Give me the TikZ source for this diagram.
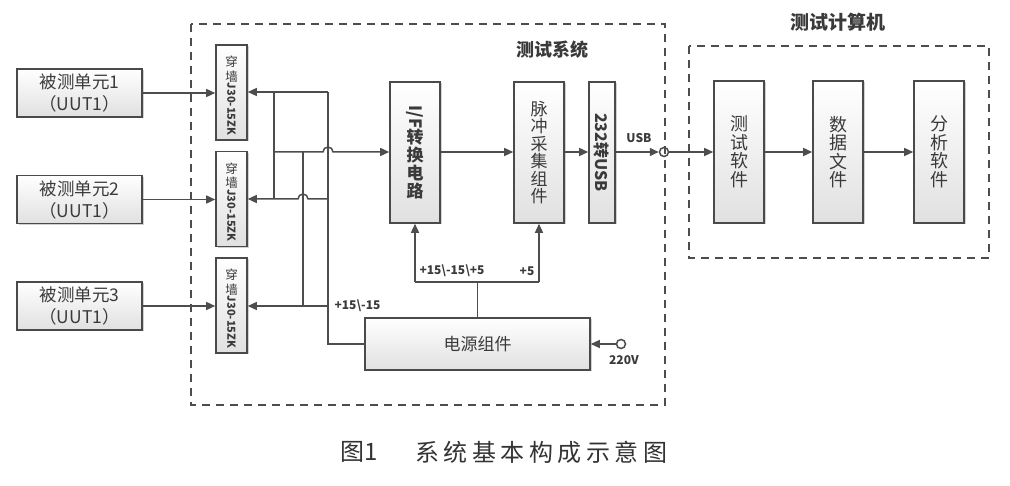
\documentclass[tikz,border=0pt]{standalone}
\usepackage{fontspec}
\usepackage{graphicx}
\newfontfamily\cjk{Noto Sans CJK SC}
\usetikzlibrary{arrows.meta,shadows}
\definecolor{ln}{HTML}{4D4D4D}
\definecolor{bx}{HTML}{4A4A4A}
\definecolor{txt}{HTML}{3A3A3A}
\definecolor{capc}{HTML}{333333}
\begin{document}
\begin{tikzpicture}[x=1pt,y=-1pt,
  box/.style={draw=bx, line width=1.6pt, top color=white, bottom color=black!12, inner sep=0pt,
    drop shadow={shadow xshift=1.5pt,shadow yshift=-1.5pt,fill=black!30,opacity=0.6}, text=txt, align=center},
  wire/.style={draw=ln, line width=1.5pt},
  arr/.style={wire, -{Triangle[length=9pt,width=8pt]}},
  dbox/.style={draw=ln, line width=1.6pt, dash pattern=on 8pt off 6pt},
  lbl/.style={font=\cjk\bfseries\fontsize{12}{13}\selectfont, text=txt, inner sep=0pt},
  ttl/.style={font=\cjk\bfseries\fontsize{18}{20}\selectfont, text=txt, inner sep=0pt},
  uut/.style={box, minimum width=125pt, minimum height=48pt, font=\cjk\fontsize{17.5}{22}\selectfont},
  conn/.style={box, minimum width=31pt, minimum height=95pt},
  conntop/.style={font=\cjk\fontsize{12.5}{14.5}\selectfont, text=txt, inner sep=0pt, align=center},
  connbot/.style={font=\cjk\bfseries\fontsize{11}{12}\selectfont, text=txt, inner sep=0pt, rotate=-90},
  tall/.style={box, minimum width=50pt, minimum height=141pt, font=\cjk\fontsize{17}{17.5}\selectfont},
  port/.style={circle, draw=ln, line width=1.5pt, minimum size=9pt, inner sep=0pt},
]
\useasboundingbox (0,0) rectangle (1010,486);

% dashed frames
\draw[dbox] (191,24) rectangle (665,405);
\draw[dbox] (689,46) rectangle (989,258);
\node[ttl] (t1) at (552,50) {测试系统};
\node[ttl, font=\cjk\bfseries\fontsize{19}{21}\selectfont] (t2) at (838,22) {测试计算机};

% units under test
\node[uut] (u1) at (79.5,93) {被测单元1\\（UUT1）};
\node[uut] (u2) at (79.5,199.5) {被测单元2\\（UUT1）};
\node[uut] (u3) at (79.5,306) {被测单元3\\（UUT1）};

% wall connectors
\node[conn] (c1) at (231.5,92.5) {};
\node[conn] (c2) at (231.5,199) {};
\node[conn] (c3) at (231.5,305.5) {};
\node[conntop] (c1a) at ([yshift=23.5pt]c1.center) {穿\\墙};
\node[connbot] (c1b) at ([yshift=-16.5pt]c1.center) {J30-15ZK};
\node[conntop] (c2a) at ([yshift=23.5pt]c2.center) {穿\\墙};
\node[connbot] (c2b) at ([yshift=-16.5pt]c2.center) {J30-15ZK};
\node[conntop] (c3a) at ([yshift=23.5pt]c3.center) {穿\\墙};
\node[connbot] (c3b) at ([yshift=-16.5pt]c3.center) {J30-15ZK};

% main blocks
\node[tall, font=\cjk\bfseries\fontsize{17}{18}\selectfont] (if) at (415,152.5) {\rotatebox{-90}{I/F}\\转\\换\\电\\路};
\node[tall] (mc) at (539,152.5) {脉\\冲\\采\\集\\组\\件};
\node[tall, minimum width=26pt, font=\cjk\bfseries\fontsize{16}{17}\selectfont] (u232) at (602,152.5) {\rotatebox{-90}{232转USB}};
\node[box, minimum width=225pt, minimum height=52pt, font=\cjk\fontsize{17}{20}\selectfont] (pw) at (477.5,344) {电源组件};

\node[tall, minimum height=142pt, font=\cjk\fontsize{18}{18.5}\selectfont] (ts) at (739,152) {测\\试\\软\\件};
\node[tall, minimum height=142pt, font=\cjk\fontsize{18}{18.5}\selectfont] (df) at (838,152) {数\\据\\文\\件};
\node[tall, minimum height=142pt, font=\cjk\fontsize{18}{18.5}\selectfont] (as) at (939,152) {分\\析\\软\\件};

% ports
\node[port] (usbc) at (664,152) {};
\node[port, fill=white] (v220) at (621,344) {};

% junction coordinates
\coordinate (ja) at (274,92);
\coordinate (jb) at (328,92);
\coordinate (jc) at (274,199);
\coordinate (jd) at (328,344);
\coordinate (je) at (274,152);
\coordinate (jk) at (328,152);
\coordinate (jf) at (303,152);
\coordinate (jg) at (303,306);
\coordinate (jh) at (328,199);
\coordinate (jm) at (303,199);
\coordinate (ji) at (328,306);
\coordinate (p1) at (415,282);
\coordinate (p2) at (539,282);
\coordinate (p3) at (477.5,282);

% UUT -> connectors
\draw[arr] (u1.east) -- (u1.east -| c1.west);
\draw[arr] (u2.east) -- (u2.east -| c2.west);
\draw[arr] (u3.east) -- (u3.east -| c3.west);

% power / signal bus
\draw[arr] (jb) -- (jb -| c1.east);
\draw[wire] (ja) -- (jc);
\draw[wire] (jb) -- (jd) -- (jd -| pw.west);
\draw[arr] (je) -- ([xshift=-5pt]jk) arc[start angle=180,end angle=0,radius=5pt] -- (je -| if.west);
\draw[wire] (jf) -- (jg);
\draw[arr] (jh) -- ([xshift=5pt]jm) arc[start angle=0,end angle=180,radius=5pt] -- (jh -| c2.east);
\draw[arr] (ji) -- (ji -| c3.east);

% chain
\draw[arr] (if.east |- je) -- (mc.west |- je);
\draw[arr] (mc.east |- je) -- (u232.west |- je);
\draw[arr] (u232.east |- usbc) -- (usbc.west);
\draw[arr] (usbc.east) -- (ts.west |- usbc);
\draw[arr] (ts.east) -- (df.west);
\draw[arr] (df.east) -- (as.west);

% supply distribution
\draw[wire] (pw.north) -- (p3);
\draw[wire] (p1) -- (p2);
\draw[arr] (p1) -- (if.south);
\draw[arr] (p2) -- (mc.south);
\draw[arr] (v220.west) -- (pw.east);

% labels
\node[lbl] (l1) at (357.5,306) {+15\textbackslash-15};
\node[lbl] (l2) at (452,271) {+15\textbackslash-15\textbackslash+5};
\node[lbl] (l3) at (527,271) {+5};
\node[lbl] (l4) at (639,138) {USB};
\node[lbl] (l5) at (624,360) {220V};

% caption
\node[font=\cjk\fontsize{24}{26}\selectfont, text=capc, inner sep=0pt] (cap1) at (359,452) {图1};
\node[font=\cjk\fontsize{24}{26}\selectfont, text=capc, inner sep=0pt] (cap2) at (541.5,452)
  {系\hspace{4.5pt}统\hspace{4.5pt}基\hspace{4.5pt}本\hspace{4.5pt}构\hspace{4.5pt}成\hspace{4.5pt}示\hspace{4.5pt}意\hspace{4.5pt}图};
\end{tikzpicture}
\end{document}
